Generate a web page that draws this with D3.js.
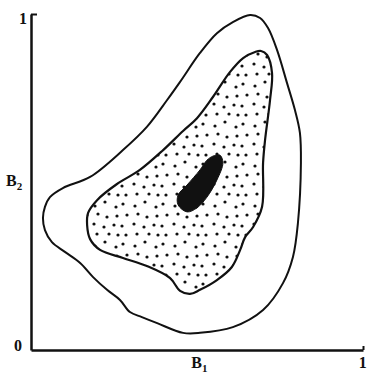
<!DOCTYPE html>
<html>
<head>
<meta charset="utf-8">
<script src="https://cdn.jsdelivr.net/npm/d3@7"></script>
<style>
  html, body { margin: 0; padding: 0; background: #fff; }
  svg { display: block; }
  text { font-family: "Liberation Serif", "DejaVu Serif", serif; font-weight: bold; fill: #111; }
</style>
</head>
<body>
<svg id="chart" width="368" height="373"></svg>
<script>
// Outer contour of the region in the (B1, B2) plane
const outerContour = [
  [0.660, 0.997], [0.690, 0.988], [0.714, 0.958], [0.741, 0.893], [0.771, 0.795],
  [0.795, 0.714], [0.810, 0.646], [0.813, 0.557], [0.804, 0.378], [0.789, 0.277],
  [0.759, 0.199], [0.699, 0.119], [0.608, 0.068], [0.509, 0.051], [0.458, 0.051],
  [0.380, 0.080], [0.334, 0.098], [0.298, 0.113], [0.268, 0.149], [0.229, 0.179],
  [0.187, 0.217], [0.148, 0.259], [0.102, 0.292], [0.063, 0.321], [0.042, 0.357],
  [0.036, 0.393], [0.042, 0.426], [0.057, 0.455], [0.096, 0.482], [0.178, 0.515],
  [0.277, 0.595], [0.349, 0.664], [0.410, 0.744], [0.449, 0.798], [0.509, 0.884],
  [0.560, 0.943], [0.608, 0.976]
];

// Inner (stippled) contour
const innerContour = [
  [0.675, 0.887], [0.693, 0.890], [0.711, 0.878], [0.726, 0.824], [0.720, 0.744],
  [0.705, 0.625], [0.699, 0.557], [0.696, 0.426], [0.669, 0.366], [0.645, 0.336],
  [0.630, 0.298], [0.605, 0.247], [0.560, 0.208], [0.509, 0.179], [0.479, 0.167],
  [0.449, 0.176], [0.419, 0.214], [0.349, 0.250], [0.277, 0.274], [0.208, 0.298],
  [0.178, 0.330], [0.169, 0.372], [0.172, 0.408], [0.199, 0.446], [0.259, 0.494],
  [0.328, 0.536], [0.398, 0.595], [0.458, 0.652], [0.500, 0.690], [0.548, 0.753],
  [0.599, 0.827], [0.639, 0.869]
];

// Solid core region
const coreRegion = [
  [0.569, 0.580], [0.578, 0.557], [0.560, 0.506], [0.530, 0.455], [0.500, 0.423],
  [0.470, 0.411], [0.443, 0.432], [0.443, 0.461], [0.470, 0.491], [0.509, 0.536],
  [0.530, 0.565], [0.548, 0.577]
];

// Axis tick labels and titles
const xTickLabels = ["1"];
const yTickLabels = ["1"];
const originLabel = "0";
const xTitle = { base: "B", sub: "1", at: 0.483 };
const yTitle = { base: "B", sub: "2", at: 0.49 };

const svg = d3.select("#chart");

const x = d3.scaleLinear().domain([0, 1]).range([31, 363]);
const y = d3.scaleLinear().domain([0, 1]).range([350, 14]);

// Stipple texture for the inner region (jittered grid in a 40px tile)
const stipple = [
  [3, 4], [15, 6], [25, 2], [36, 7],
  [7, 15], [18, 14], [27, 17], [37, 16],
  [2, 26], [14, 24], [24, 27], [34, 25],
  [6, 35], [17, 34], [29, 34], [38, 35]
];
const pat = svg.append("defs").append("pattern")
  .attr("id", "stipple")
  .attr("patternUnits", "userSpaceOnUse")
  .attr("width", 40).attr("height", 40);
pat.selectAll("circle").data(stipple).join("circle")
  .attr("cx", d => d[0]).attr("cy", d => d[1]).attr("r", 1.6)
  .attr("fill", "#111");

const line = d3.line()
  .x(d => x(d[0])).y(d => y(d[1]))
  .curve(d3.curveCatmullRomClosed.alpha(0.5));

svg.append("path").datum(outerContour)
  .attr("d", line).attr("fill", "none")
  .attr("stroke", "#111").attr("stroke-width", 2);

svg.append("path").datum(innerContour)
  .attr("d", line).attr("fill", "url(#stipple)")
  .attr("stroke", "#111").attr("stroke-width", 2.2);

svg.append("path").datum(coreRegion)
  .attr("d", line).attr("fill", "#111").attr("stroke", "#111").attr("stroke-width", 1);

// Axes
const yAxis = d3.axisLeft(y).tickValues([1]).tickFormat((d, i) => yTickLabels[i])
  .tickSizeInner(-6).tickSizeOuter(0).tickPadding(4);
const gy = svg.append("g").attr("transform", `translate(${x(0)},0)`).call(yAxis);

const xAxis = d3.axisBottom(x).tickValues([1]).tickFormat((d, i) => xTickLabels[i])
  .tickSizeInner(-4).tickSizeOuter(0).tickPadding(7);
const gx = svg.append("g").attr("transform", `translate(0,${y(0)})`).call(xAxis);

[gx, gy].forEach(g => {
  g.select(".domain").attr("stroke", "#111").attr("stroke-width", 2.5);
  g.selectAll(".tick line").attr("stroke", "#111").attr("stroke-width", 2);
  g.selectAll(".tick text").attr("font-size", 16)
    .attr("font-family", "Liberation Serif, serif").attr("font-weight", "bold").attr("fill", "#111");
});
gy.selectAll(".tick text").attr("dy", "0.6em");
gx.selectAll(".tick text").attr("dx", "-0.05em");

svg.append("text").attr("x", x(0) - 13).attr("y", y(0) + 1)
  .attr("text-anchor", "middle").attr("font-size", 16).text(originLabel);

// Axis titles with subscripts
const xt = svg.append("text").attr("x", x(xTitle.at)).attr("y", y(0) + 18)
  .attr("font-size", 16);
xt.append("tspan").text(xTitle.base);
xt.append("tspan").attr("font-size", 11).attr("dy", 4).text(xTitle.sub);

const yt = svg.append("text").attr("x", 6).attr("y", y(yTitle.at) + 1)
  .attr("font-size", 16);
yt.append("tspan").text(yTitle.base);
yt.append("tspan").attr("font-size", 11).attr("dy", 4).text(yTitle.sub);
</script>
</body>
</html>
